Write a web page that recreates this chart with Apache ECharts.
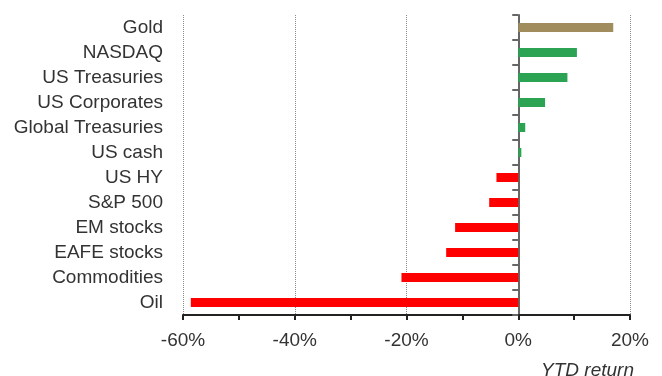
<!DOCTYPE html>
<html>
<head>
<meta charset="utf-8">
<script src="https://cdn.jsdelivr.net/npm/echarts@6/dist/echarts.min.js"></script>
<style>html,body{margin:0;padding:0;background:#fff;}#c{width:662px;height:376px;}</style>
</head>
<body>
<div id="c"></div>
<script>
var categories = ['Gold','NASDAQ','US Treasuries','US Corporates','Global Treasuries','US cash','US HY','S&P 500','EM stocks','EAFE stocks','Commodities','Oil'];
var values = [17.0, 10.5, 8.8, 4.8, 1.25, 0.55, -3.9, -5.2, -11.3, -12.9, -20.9, -58.6];
var xTicks = [-60, -40, -20, 0, 20];
var axisTitle = 'YTD return';

var chart = echarts.init(document.getElementById('c'), null, {renderer: 'canvas'});
var FONT = 'Liberation Sans, Arial, sans-serif';
chart.setOption({
  animation: false,
  grid: {left: 183, right: 32, top: 15, bottom: 61},
  xAxis: {
    type: 'value',
    min: xTicks[0], max: xTicks[xTicks.length - 1], interval: 20,
    axisLine: {show: true, onZero: false, lineStyle: {color: '#222', width: 2}},
    axisTick: {show: true, length: 5, lineStyle: {color: '#222', width: 2}},
    minorTick: {show: true, splitNumber: 2, length: 5, lineStyle: {color: '#222', width: 2}},
    splitLine: {show: true, lineStyle: {color: '#8a8a8a', type: [1, 1], width: 1}},
    axisLabel: {fontSize: 19, color: '#333', fontFamily: FONT, margin: 16, formatter: function (v) { return v + '%'; }}
  },
  yAxis: [{
    type: 'category', inverse: true, data: categories,
    axisLine: {show: false, onZero: false},
    axisTick: {show: false},
    axisLabel: {fontSize: 19, color: '#333', fontFamily: FONT, margin: 20}
  }, {
    type: 'category', inverse: true, data: categories, position: 'left',
    axisLine: {show: true, onZero: true, lineStyle: {color: '#666', width: 2}},
    axisTick: {show: true, length: 6, lineStyle: {color: '#666', width: 2}},
    axisLabel: {show: false},
    splitLine: {show: false}
  }],
  series: [{
    type: 'bar', yAxisIndex: 0, data: values, barWidth: 9,
    itemStyle: {color: function (p) {
      if (p.name === 'Gold') return '#A08C5C';
      return p.value >= 0 ? '#2BA352' : '#FF0000';
    }}
  }],
  graphic: [{
    type: 'text', right: 28, top: 361,
    style: {text: axisTitle, fontSize: 19, fontStyle: 'italic', fill: '#333', fontFamily: FONT}
  }]
});
</script>
</body>
</html>
